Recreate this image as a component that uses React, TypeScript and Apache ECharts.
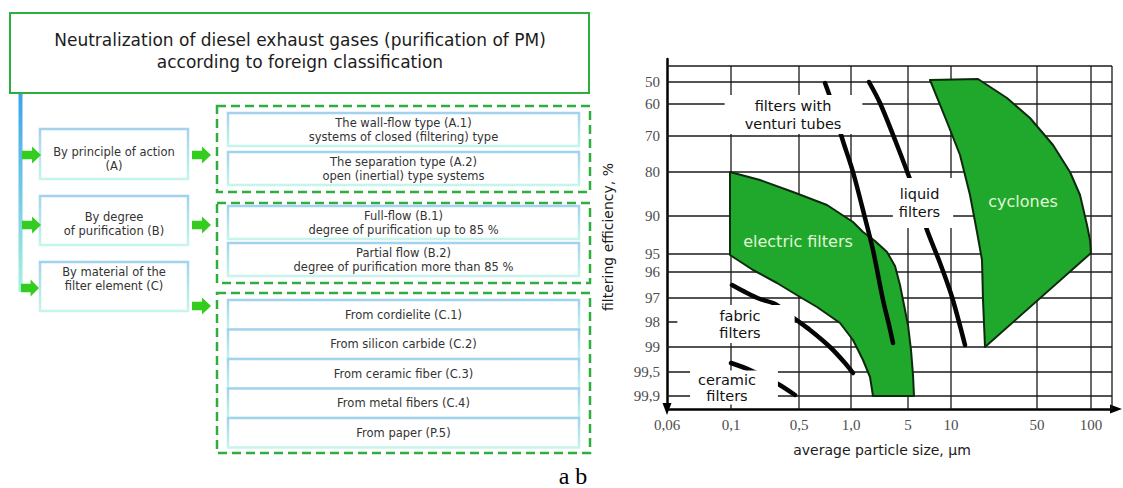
import React, { useEffect, useRef } from 'react';
import * as echarts from 'echarts';

// ---------- Flowchart texts ----------
const titleLines = [
  'Neutralization of diesel exhaust gases (purification of PM)',
  'according to foreign classification',
];
const groupLabels = [
  'By principle of action\n(A)',
  'By degree\nof purification (B)',
  'By material of the\nfilter element (C)',
];
const typeLabelsA = [
  'The wall-flow type (A.1)\nsystems of closed (filtering) type',
  'The separation type (A.2)\nopen (inertial) type systems',
];
const typeLabelsB = [
  'Full-flow (B.1)\ndegree of purification up to 85 %',
  'Partial flow (B.2)\ndegree of purification more than 85 %',
];
const typeLabelsC = [
  'From cordielite (C.1)',
  'From silicon carbide (C.2)',
  'From ceramic fiber (C.3)',
  'From metal fibers (C.4)',
  'From paper (P.5)',
];
const panelCaption = 'a b';

// ---------- Chart (schematic, non-uniform axes; values in axis units) ----------
const xTickLabels = ['0,06', '0,1', '0,5', '1,0', '5', '10', '50', '100'];
const xTickPos = [0, 64, 132, 184, 241, 284, 370, 424];
const yTickLabels = ['50', '60', '70', '80', '90', '95', '96', '97', '98', '99', '99,5', '99,9'];
const yTickPos = [16, 38, 70, 106, 150, 188, 206, 232, 256, 281, 306, 330];
const frameRight = 445;
const frameTop = 0;
const frameBottom = 343;

const electricOutline = [
  [63, 106], [93, 114], [126, 126], [160, 139], [186, 156], [196, 166], [208, 175],
  [220, 186], [228, 200], [233, 219], [237, 239], [241, 259], [244, 284], [246, 309],
  [247, 330], [206, 330], [203, 311], [196, 294], [186, 274], [173, 257], [150, 241],
  [133, 231], [110, 217], [86, 204], [63, 189],
];
const cycloneOutline = [
  [263, 14], [311, 13], [340, 32], [363, 52], [386, 79], [403, 106], [413, 129],
  [420, 159], [423, 174], [424, 187], [318, 281], [316, 234], [315, 194], [310, 166],
  [303, 129], [293, 89], [280, 56],
];
const venturiStripe = [[158, 17], [164, 34], [175, 72], [186, 106], [198, 152], [206, 184], [216, 234], [222, 259], [226, 277]];
const liquidStripe = [[202, 16], [213, 37], [230, 79], [245, 119], [260, 164], [273, 197], [285, 231], [298, 279]];
const fabricStripe = [[65, 219], [80, 227], [93, 233], [108, 238], [128, 253], [143, 264], [163, 281], [178, 297], [186, 307]];
const ceramicStripe = [[64, 297], [83, 304], [111, 318], [128, 329]];

const regionTexts = ['filters with\nventuri tubes', 'liquid\nfilters', 'fabric\nfilters', 'ceramic\nfilters', 'electric filters', 'cyclones'];
const regionAt = [[126.5, 48.5], [256, 137], [69, 258], [67, 321.5], [131, 175], [356, 135]];

const SANS = '"DejaVu Sans", Verdana, sans-serif';
const SERIF = '"Liberation Serif", "Times New Roman", serif';

function buildGraphic() {
  const els: any[] = [];
  const green = '#2fae3f';
  const arrowGreen = '#33cc1f';
  const boxStroke = () =>
    new echarts.graphic.LinearGradient(0, 0, 0, 1, [
      { offset: 0, color: '#a3d2ee' },
      { offset: 1, color: '#c6f5ec' },
    ]);
  const text = (t: string, x: number, y: number, size: number, lh: number, fill = '#333', font = SANS) => ({
    type: 'text',
    x,
    y,
    z: 10,
    style: { text: t, fontSize: size, fontFamily: font, fill, align: 'center', verticalAlign: 'middle', lineHeight: lh },
  });
  const arrow = (x0: number, x1: number, yc: number) => {
    const xm = x0 + (x1 - x0) * 0.53;
    return {
      type: 'polygon',
      z: 10,
      shape: {
        points: [
          [x0, yc - 4.3], [xm, yc - 4.3], [xm, yc - 8.5], [x1, yc], [xm, yc + 8.5], [xm, yc + 4.3], [x0, yc + 4.3],
        ],
      },
      style: { fill: arrowGreen },
    };
  };
  const box = (x: number, y: number, w: number, h: number) => ({
    type: 'rect',
    z: 5,
    shape: { x, y, width: w, height: h },
    style: { fill: '#fff', stroke: boxStroke(), lineWidth: 2.5 },
  });
  const dashed = (x: number, y: number, w: number, h: number) => ({
    type: 'rect',
    z: 4,
    shape: { x, y, width: w, height: h },
    style: { fill: 'none', stroke: green, lineWidth: 2.5, lineDash: [9, 5] },
  });

  // title
  els.push({ type: 'rect', z: 5, shape: { x: 10, y: 13, width: 579, height: 80 }, style: { fill: '#fff', stroke: green, lineWidth: 2 } });
  els.push(text(titleLines.join('\n'), 300, 51, 17, 22, '#1c1c1c'));
  // vertical trunk
  els.push({
    type: 'rect', z: 4,
    shape: { x: 18.5, y: 93, width: 4, height: 199 },
    style: {
      fill: new echarts.graphic.LinearGradient(0, 0, 0, 1, [
        { offset: 0, color: '#3ba3ea' },
        { offset: 1, color: '#a8f2de' },
      ]),
    },
  });
  // group boxes
  const gBoxes = [[129, 50, 158.5], [196, 49, 224], [262, 49, 279]];
  gBoxes.forEach(([y, h, ty], i) => {
    els.push(box(40, y, 148, h));
    els.push(text(groupLabels[i], 114, ty, 11.5, 14));
  });
  // arrows
  [[22, 41, 155], [22, 41, 225], [21, 39, 288]].forEach(([a, b, c]) => els.push(arrow(a, b, c)));
  [[192, 211, 155], [192, 211, 225], [192, 211, 306]].forEach(([a, b, c]) => els.push(arrow(a, b, c)));
  // dashed groups
  els.push(dashed(217, 106, 373, 86));
  els.push(dashed(217, 203, 373, 80));
  els.push(dashed(217, 293, 373, 160));
  // type boxes
  const aBoxes = [113, 152];
  aBoxes.forEach((y, i) => {
    els.push(box(228, y, 351, 33));
    els.push(text(typeLabelsA[i], 403.5, y + 16.5, 11.5, 14));
  });
  const bBoxes = [206, 243];
  bBoxes.forEach((y, i) => {
    els.push(box(228, y, 351, 33));
    els.push(text(typeLabelsB[i], 403.5, y + 16.5, 11.5, 14));
  });
  const cBoxes = [300, 329.5, 359, 388.5, 418];
  cBoxes.forEach((y, i) => {
    els.push(box(228, y, 351, 29.5));
    els.push(text(typeLabelsC[i], 403.5, y + 14.75, 11.5, 14));
  });
  // caption
  els.push(text(panelCaption, 573, 476, 24, 20, '#000', SERIF));
  // axis titles
  els.push({
    type: 'text', x: 608, y: 237, rotation: Math.PI / 2, z: 10,
    style: { text: 'filtering efficiency, %', fontSize: 14, fontFamily: SANS, fill: '#1c1c1c', align: 'center', verticalAlign: 'middle' },
  });
  els.push(text('average particle size, µm', 882, 450, 14, 16, '#1c1c1c'));
  return els;
}

function buildOption() {
  const gridSegments: number[][] = [
    ...xTickPos.slice(1).map((x) => [x, frameTop, x, frameBottom]),
    [frameRight, frameTop, frameRight, frameBottom],
    [0, frameTop, frameRight, frameTop],
    ...yTickPos.map((y) => [0, y, frameRight, y]),
  ];
  const polygonSeries = (outline: number[][]) => ({
    type: 'custom',
    z: 2,
    silent: true,
    data: [[0, 0]],
    renderItem: (_p: any, api: any) => ({
      type: 'polygon',
      shape: { points: outline.map((pt) => api.coord(pt)) },
      style: { fill: '#1fa82b', stroke: '#0e2a0e', lineWidth: 2, lineJoin: 'round' },
    }),
  });
  const stripeSeries = (pts: number[][]) => ({
    type: 'line',
    z: 3,
    silent: true,
    data: pts,
    smooth: 0.3,
    showSymbol: false,
    symbol: 'none',
    lineStyle: { color: '#050505', width: 4.5, cap: 'round' },
  });
  const boxPads = [[0, 21, 3, 20], [7, 13, 7, 6], [3, 34, 1, 42], [0, 22, 2, 8]];
  const boxLh = [18, 18, 17, 16];
  const labelData = regionTexts.map((t, i) => {
    const boxed = i < 4;
    return {
      value: regionAt[i],
      label: boxed
        ? { formatter: t, backgroundColor: '#ffffff', padding: boxPads[i], lineHeight: boxLh[i], fontSize: 14.5, color: '#111', fontFamily: SANS }
        : { formatter: t, fontSize: 16, color: '#e2f6d8', fontFamily: SANS },
    };
  });

  return {
    animation: false,
    backgroundColor: '#fff',
    grid: { left: 667, top: 59, width: 449, height: 350, containLabel: false },
    xAxis: {
      type: 'value',
      min: 0,
      max: 449,
      axisLine: { show: true, onZero: false, symbol: ['none', 'triangle'], symbolSize: [9, 12], lineStyle: { color: '#000', width: 2.5 } },
      axisTick: { show: false },
      splitLine: { show: false },
      axisLabel: {
        customValues: xTickPos,
        formatter: (v: number) => { const i = xTickPos.indexOf(v); return i >= 0 ? xTickLabels[i] : ''; },
        margin: 8,
        fontFamily: SERIF,
        fontSize: 15,
        color: '#4d4d4d',
      },
    },
    yAxis: {
      type: 'value',
      min: -7,
      max: frameBottom,
      inverse: true,
      axisLine: { show: true, onZero: false, symbol: ['triangle', 'none'], symbolSize: [9, 12], lineStyle: { color: '#000', width: 2.5 } },
      axisTick: { show: false },
      splitLine: { show: false },
      axisLabel: {
        customValues: yTickPos,
        formatter: (v: number) => { const i = yTickPos.indexOf(v); return i >= 0 ? yTickLabels[i] : ''; },
        margin: 7,
        fontFamily: SERIF,
        fontSize: 15,
        color: '#4d4d4d',
      },
    },
    graphic: buildGraphic(),
    series: [
      {
        type: 'custom',
        z: 1,
        silent: true,
        data: gridSegments,
        encode: { x: [0, 2], y: [1, 3] },
        renderItem: (_p: any, api: any) => {
          const a = api.coord([api.value(0), api.value(1)]);
          const b = api.coord([api.value(2), api.value(3)]);
          return { type: 'line', shape: { x1: a[0], y1: a[1], x2: b[0], y2: b[1] }, style: { stroke: '#1a1a1a', lineWidth: 1.3 } };
        },
      },
      polygonSeries(electricOutline),
      polygonSeries(cycloneOutline),
      stripeSeries(venturiStripe),
      stripeSeries(liquidStripe),
      stripeSeries(fabricStripe),
      stripeSeries(ceramicStripe),
      {
        type: 'scatter',
        z: 6,
        silent: true,
        symbolSize: 1,
        itemStyle: { color: 'rgba(255,255,255,0)', opacity: 1 },
        label: { show: true, position: 'inside' },
        data: labelData,
      },
    ],
  };
}

export default function App() {
  const ref = useRef<HTMLDivElement>(null);
  useEffect(() => {
    if (!ref.current) return;
    const chart = echarts.init(ref.current, null, { renderer: 'svg' });
    chart.setOption(buildOption() as any);
    return () => chart.dispose();
  }, []);
  return (
    <div
      ref={ref}
      style={{ position: 'absolute', left: 0, top: 0, width: 1123, height: 488, background: '#fff' }}
    />
  );
}
